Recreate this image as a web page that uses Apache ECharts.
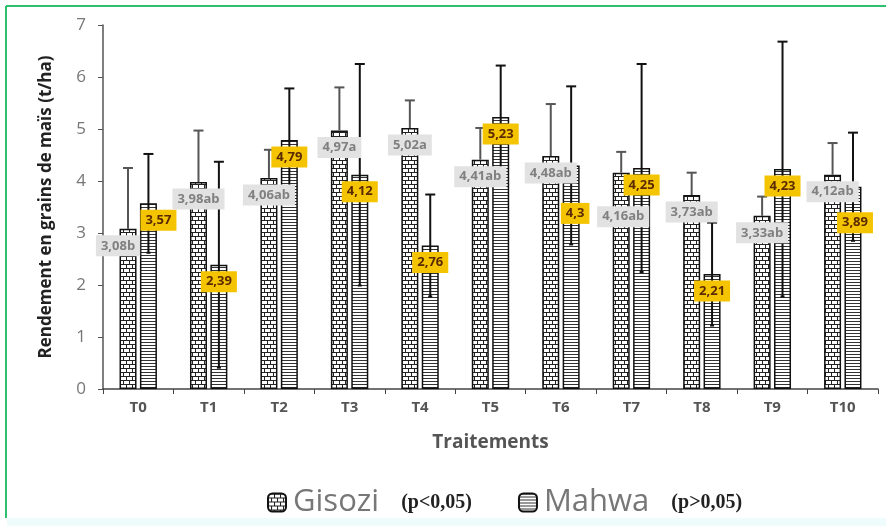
<!DOCTYPE html>
<html>
<head>
<meta charset="utf-8">
<script src="https://cdn.jsdelivr.net/npm/echarts@6/dist/echarts.min.js"></script>
<style>
  html, body { margin: 0; padding: 0; background: #fff; }
  #chart { width: 886px; height: 526px; }
</style>
</head>
<body>
<div id="chart"></div>
<script>
// données
var traitements = ['T0', 'T1', 'T2', 'T3', 'T4', 'T5', 'T6', 'T7', 'T8', 'T9', 'T10'];
var gisozi = [3.08, 3.98, 4.06, 4.97, 5.02, 4.41, 4.48, 4.16, 3.73, 3.33, 4.12];
var gisoziErr = [1.17, 0.99, 0.54, 0.83, 0.53, 0.61, 1.0, 0.4, 0.43, 0.37, 0.61];
var gisoziLettres = ['3,08b', '3,98ab', '4,06ab', '4,97a', '5,02a', '4,41ab', '4,48ab', '4,16ab', '3,73ab', '3,33ab', '4,12ab'];
var mahwa = [3.57, 2.39, 4.79, 4.12, 2.76, 5.23, 4.3, 4.25, 2.21, 4.23, 3.89];
var mahwaErr = [0.95, 1.98, 0.99, 2.13, 0.98, 0.99, 1.52, 2.0, 0.99, 2.45, 1.04];
var mahwaLabels = ['3,57', '2,39', '4,79', '4,12', '2,76', '5,23', '4,3', '4,25', '2,21', '4,23', '3,89'];
var yTicks = [0, 1, 2, 3, 4, 5, 6, 7];

// petits déplacements manuels des étiquettes (comme dans la figure d'origine)
var deplG = { 0: [-10, 0], 7: [2, 27] };
var deplM = { 0: [10, 0], 6: [4, 31], 10: [2, 19] };

// motif "briques" pour Gisozi
function motifBriques() {
  var c = document.createElement('canvas');
  c.width = 6; c.height = 8;
  var ctx = c.getContext('2d');
  ctx.fillStyle = '#fff';
  ctx.fillRect(0, 0, 6, 8);
  ctx.fillStyle = '#222';
  ctx.fillRect(0, 0, 6, 1);
  ctx.fillRect(0, 4, 6, 1);
  ctx.fillRect(0, 0, 1, 4);
  ctx.fillRect(3, 4, 1, 4);
  return c;
}
// motif rayé horizontal pour Mahwa
function motifRayures() {
  var c = document.createElement('canvas');
  c.width = 4; c.height = 3;
  var ctx = c.getContext('2d');
  ctx.fillStyle = '#fff';
  ctx.fillRect(0, 0, 4, 3);
  ctx.fillStyle = '#333';
  ctx.fillRect(0, 0, 4, 1);
  return c;
}

var BAR_W = 17;
var BAR_GAP = 0.2;
var decalage = (BAR_W + BAR_W * BAR_GAP) / 2;

function barreErreur(valeurs, erreurs, dx, couleur, basAussi) {
  return function (params, api) {
    var i = api.value(0);
    var v = valeurs[i], e = erreurs[i];
    var haut = api.coord([i, v + e]);
    var bas = api.coord([i, basAussi ? v - e : v]);
    var x = haut[0] + dx;
    var cap = 5;
    var style = { stroke: couleur, lineWidth: 2 };
    var enfants = [
      { type: 'line', shape: { x1: x, y1: haut[1], x2: x, y2: bas[1] }, style: style },
      { type: 'line', shape: { x1: x - cap, y1: haut[1], x2: x + cap, y2: haut[1] }, style: style }
    ];
    if (basAussi) {
      enfants.push({ type: 'line', shape: { x1: x - 2, y1: bas[1], x2: x + 2, y2: bas[1] }, style: style });
    }
    return { type: 'group', children: enfants };
  };
}

// étiquettes posées au-dessus des barres d'erreur
function etiquettes(params, api) {
  var i = api.value(0);
  var pg = api.coord([i, gisozi[i]]);
  var pm = api.coord([i, mahwa[i]]);
  var dg = deplG[i] || [0, 0];
  var dm = deplM[i] || [0, 0];
  return {
    type: 'group',
    children: [
      {
        type: 'text', x: pg[0] - decalage + dg[0], y: pg[1] + 17 + dg[1],
        style: {
          text: gisoziLettres[i], align: 'center', verticalAlign: 'middle',
          fill: '#808080', font: 'bold 13px "Open Sans"',
          backgroundColor: '#e2e2e2', padding: [4, 5]
        }
      },
      {
        type: 'text', x: pm[0] + decalage + dm[0], y: pm[1] + 17 + dm[1],
        style: {
          text: mahwaLabels[i], align: 'center', verticalAlign: 'middle',
          fill: '#5a2a00', font: 'bold 13px "Open Sans"',
          backgroundColor: '#f5c400', padding: [4, 5]
        }
      }
    ]
  };
}

var indices = traitements.map(function (t, i) { return [i]; });

var chart = echarts.init(document.getElementById('chart'));
chart.setOption({
  backgroundColor: '#fff',
  animation: false,
  textStyle: { fontFamily: 'Open Sans' },
  graphic: [
    { type: 'line', shape: { x1: 6, y1: 6, x2: 886, y2: 6 }, style: { stroke: '#2fbf6f', lineWidth: 2 } },
    { type: 'line', shape: { x1: 6, y1: 6, x2: 6, y2: 518 }, style: { stroke: '#2fbf6f', lineWidth: 2 } },
    { type: 'rect', shape: { x: 7, y: 518, width: 879, height: 8 }, style: { fill: '#eefcfb' } }
  ],
  grid: { left: 103, right: 8, top: 25, bottom: 137 },
  legend: {
    left: 262,
    top: 482,
    itemWidth: 18,
    itemHeight: 18,
    itemGap: 46,
    data: ['Gisozi', 'Mahwa'],
    formatter: function (name) {
      return name === 'Gisozi' ? '{n|Gisozi}{p|(p<0,05)}' : '{n|Mahwa}{p|(p>0,05)}';
    },
    textStyle: {
      color: '#777',
      rich: {
        n: { fontSize: 31, color: '#777', padding: [0, 0, 0, 2] },
        p: { fontFamily: 'Liberation Serif', fontWeight: 'bold', fontSize: 20, color: '#222', padding: [0, 0, 0, 22] }
      }
    }
  },
  xAxis: {
    type: 'category',
    data: traitements,
    name: 'Traitements',
    nameLocation: 'middle',
    nameGap: 44,
    nameTextStyle: { fontSize: 19, fontWeight: 'bold', color: '#555' },
    axisLine: { lineStyle: { color: '#444', width: 1.5 } },
    axisTick: { show: true, alignWithLabel: false, length: 5, lineStyle: { color: '#444' } },
    axisLabel: { fontSize: 15, color: '#555', fontWeight: 'bold', margin: 11 }
  },
  yAxis: {
    type: 'value',
    min: yTicks[0],
    max: yTicks[yTicks.length - 1],
    interval: 1,
    name: 'Rendement en grains de maïs (t/ha)',
    nameLocation: 'middle',
    nameGap: 48,
    nameTextStyle: { fontSize: 17, fontWeight: 'bold', color: '#222' },
    axisLine: { show: true, lineStyle: { color: '#555', width: 1.5 } },
    axisTick: { show: true, length: 5, lineStyle: { color: '#555' } },
    axisLabel: { fontSize: 17, color: '#777', margin: 17 },
    splitLine: { show: false }
  },
  series: [
    {
      name: 'Gisozi',
      type: 'bar',
      data: gisozi,
      barWidth: BAR_W,
      barGap: (BAR_GAP * 100) + '%',
      itemStyle: { color: { image: motifBriques(), repeat: 'repeat' }, borderColor: '#111', borderWidth: 1.5 },
      z: 2
    },
    {
      name: 'Mahwa',
      type: 'bar',
      data: mahwa,
      barWidth: BAR_W,
      itemStyle: { color: { image: motifRayures(), repeat: 'repeat' }, borderColor: '#111', borderWidth: 1.5 },
      z: 2
    },
    {
      type: 'custom',
      name: 'errG',
      data: indices,
      renderItem: barreErreur(gisozi, gisoziErr, -decalage, '#555', false),
      z: 3,
      silent: true
    },
    {
      type: 'custom',
      name: 'errM',
      data: indices,
      renderItem: barreErreur(mahwa, mahwaErr, decalage, '#111', true),
      z: 3,
      silent: true
    },
    {
      type: 'custom',
      name: 'etiquettes',
      data: indices,
      renderItem: etiquettes,
      z: 5,
      silent: true
    }
  ]
});
</script>
</body>
</html>
